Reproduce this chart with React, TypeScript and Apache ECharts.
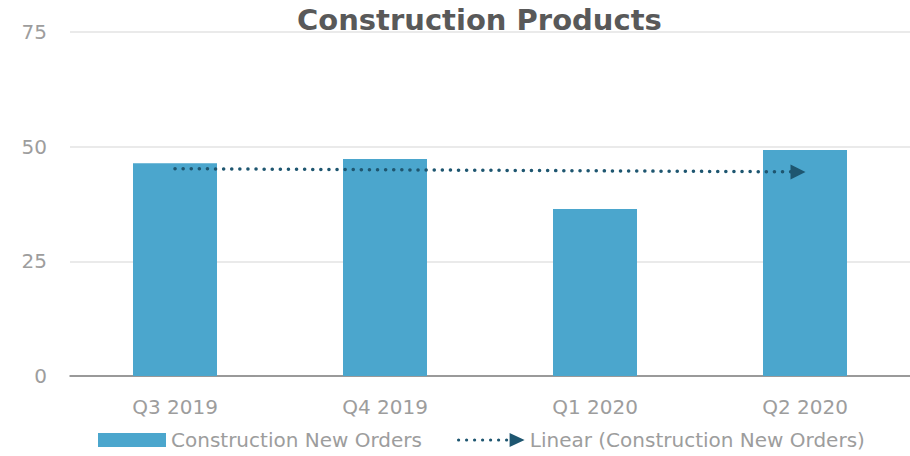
import React, { useEffect, useRef } from "react";
import * as echarts from "echarts";

const categories = ["Q3 2019", "Q4 2019", "Q1 2020", "Q2 2020"];
const newOrders = [46.4, 47.3, 36.4, 49.3];
const trendStart = 45.2;
const trendEnd = 44.5;
const yTicks = [0, 25, 50, 75];

const FONT = "DejaVu Sans";
const LABEL_COLOR = "#9d9d9d";
const BAR_COLOR = "#4ba6cd";
const TREND_COLOR = "#1e5670";

function dotsArrowIcon(): string {
  let d = "";
  for (let i = 0; i < 7; i++) {
    const cx = 2 + i * 8;
    d += `M${cx - 1.6} 7 a1.6 1.6 0 1 0 3.2 0 a1.6 1.6 0 1 0 -3.2 0 Z `;
  }
  d += "M53 0 L68 7 L53 14 Z";
  return "path://" + d;
}

export default function App() {
  const ref = useRef<HTMLDivElement>(null);
  useEffect(() => {
    if (!ref.current) return;
    const chart = echarts.init(ref.current, undefined, { renderer: "svg" });
    const trendData: any[] = categories.map(() => null);
    trendData[0] = { value: trendStart, symbol: "none" };
    trendData[categories.length - 1] = {
      value: trendEnd,
      symbol: "triangle",
      symbolSize: [15, 15],
      symbolRotate: -90,
      symbolOffset: [-7, 0],
    };
    chart.setOption({
      animation: false,
      backgroundColor: "#ffffff",
      title: {
        text: "Construction Products",
        left: 292,
        top: 0,
        textStyle: { fontFamily: FONT, fontWeight: "bold", fontSize: 29, color: "#595959" },
      },
      grid: { left: 70, right: 0, top: 32, bottom: 80, containLabel: false },
      legend: [
        {
          left: 93,
          top: 425,
          itemWidth: 68,
          itemHeight: 14,
          data: [{ name: "Construction New Orders", icon: "rect" }],
          textStyle: { fontFamily: FONT, fontSize: 20, color: LABEL_COLOR },
        },
        {
          left: 452,
          top: 425,
          itemWidth: 68,
          itemHeight: 14,
          data: [{ name: "Linear (Construction New Orders)", icon: dotsArrowIcon(), itemStyle: { color: TREND_COLOR } }],
          textStyle: { fontFamily: FONT, fontSize: 20, color: LABEL_COLOR },
        },
      ],
      xAxis: {
        type: "category",
        data: categories,
        axisTick: { show: false },
        axisLine: { show: true, lineStyle: { color: "#7f7f7f", width: 1.5 } },
        axisLabel: { fontFamily: FONT, fontSize: 20, color: LABEL_COLOR, margin: 21 },
      },
      yAxis: {
        type: "value",
        min: yTicks[0],
        max: yTicks[yTicks.length - 1],
        interval: 25,
        axisLine: { show: false },
        axisTick: { show: false },
        splitLine: { lineStyle: { color: "#e3e3e3", width: 1.5 } },
        axisLabel: { fontFamily: FONT, fontSize: 20, color: LABEL_COLOR, margin: 23 },
      },
      series: [
        {
          name: "Construction New Orders",
          type: "bar",
          data: newOrders,
          barWidth: "40%",
          itemStyle: { color: BAR_COLOR },
        },
        {
          name: "Linear (Construction New Orders)",
          type: "line",
          data: trendData,
          connectNulls: true,
          showSymbol: true,
          symbol: "none",
          itemStyle: { color: TREND_COLOR },
          lineStyle: { color: TREND_COLOR, width: 3.5, type: [0.1, 8], cap: "round" },
          z: 5,
        },
      ],
    });
    return () => chart.dispose();
  }, []);
  return (
    <div
      ref={ref}
      style={{ position: "fixed", left: 0, top: 0, width: 910, height: 456 }}
    />
  );
}
